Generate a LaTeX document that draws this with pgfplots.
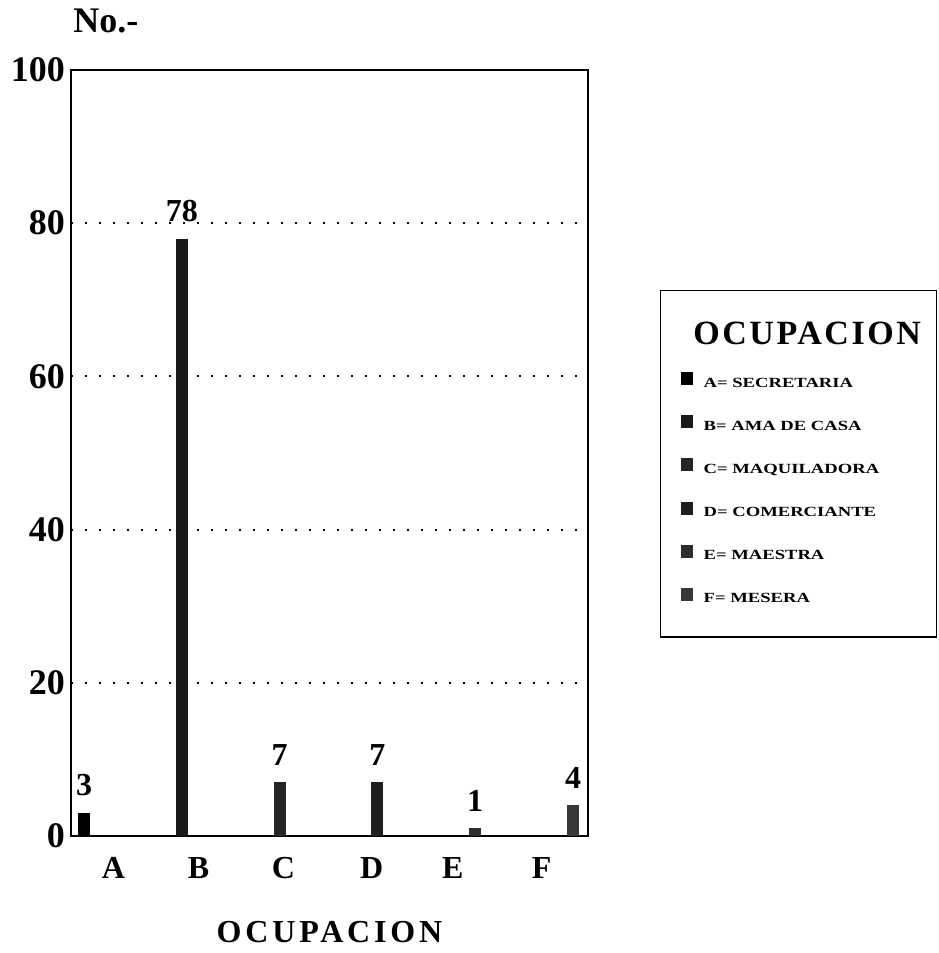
\documentclass[border=0pt]{standalone}
\usepackage{fontspec}
\setmainfont{Liberation Serif}
\usepackage{pgfplots}
\pgfplotsset{compat=1.18}
\pgfplotsset{
  catbar/.style={ybar, bar shift=0pt, bar width=6pt, draw=none, fill=#1,
    legend image code/.code={\fill[fill=#1] (0pt,-0.5pt) rectangle (6pt,6pt);}},
}
\begin{document}
\begin{tikzpicture}
\useasboundingbox (-35.5pt,-58.5pt) rectangle (433.5pt,418pt);
\begin{axis}[
  at={(0pt,0pt)}, anchor=south west,
  scale only axis, width=258.5pt, height=383pt,
  xmin=-0.133, xmax=5.153, ymin=0, ymax=100,
  ytick={0,20,40,60,80,100},
  xtick={0.3,1.17,2.04,2.94,3.77,4.68},
  xticklabels={A,B,C,D,E,F},
  major tick length=0pt,
  ymajorgrids,
  grid style={line width=1pt, dash pattern=on 0.8pt off 6.2pt, black},
  axis line style={line width=1pt},
  /pgf/number format/assume math mode=true,
  yticklabel style={font=\bfseries\fontsize{18}{18}\selectfont, xshift=0.5pt},
  xticklabel style={font=\bfseries\fontsize{16}{16}\selectfont, yshift=-7pt},
  nodes near coords,
  nodes near coords style={font=\bfseries\fontsize{16}{16}\selectfont, yshift=5pt},
  clip=false,
  legend style={at={(1.139,0.713)}, anchor=north west, draw=black,
    line width=0.8pt, inner xsep=10pt, inner ysep=15.5pt, row sep=12.5pt,
    column sep=5.5pt,
    font=\bfseries\fontsize{7}{8}\selectfont\addfontfeature{FakeStretch=1.33},
    nodes={inner sep=0pt}, cells={anchor=west}},
]
\addlegendimage{empty legend}
\addlegendentry{\normalfont\bfseries\fontsize{17}{17}\selectfont\addfontfeature{LetterSpace=7.5}\hspace*{-3pt}\makebox[109.5pt][c]{OCUPACION}}
\addplot[catbar=black] coordinates {(0,3)};
\addlegendentry{A= SECRETARIA}
\addplot[catbar=black!90] coordinates {(1,78)};
\addlegendentry{B= AMA DE CASA}
\addplot[catbar=black!85] coordinates {(2,7)};
\addlegendentry{C= MAQUILADORA}
\addplot[catbar=black!88] coordinates {(3,7)};
\addlegendentry{D= COMERCIANTE}
\addplot[catbar=black!82] coordinates {(4,1)};
\addlegendentry{E= MAESTRA}
\addplot[catbar=black!78] coordinates {(5,4)};
\addlegendentry{F= MESERA}
\node[anchor=base west, inner sep=0pt, font=\bfseries\fontsize{18}{18}\selectfont]
  at (rel axis cs:0,1) [xshift=1pt, yshift=18.5pt] {No.-};
\node[anchor=base, inner sep=0pt, font=\bfseries\fontsize{16}{16}\selectfont\addfontfeature{LetterSpace=12}]
  at (rel axis cs:0.5,0) [yshift=-53pt] {OCUPACION};
\end{axis}
\end{tikzpicture}
\end{document}
